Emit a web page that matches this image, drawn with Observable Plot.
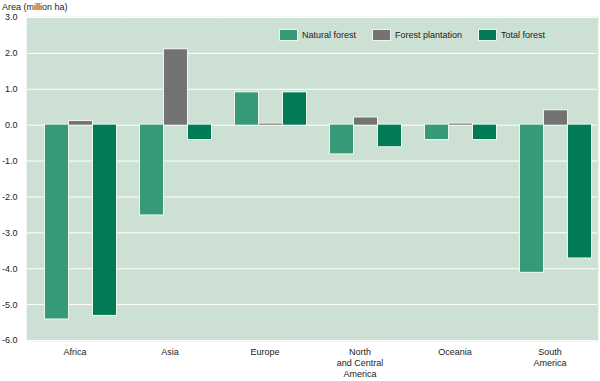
<!DOCTYPE html>
<html>
<head>
<meta charset="utf-8">
<script src="https://cdn.jsdelivr.net/npm/d3@7"></script>
<script src="https://cdn.jsdelivr.net/npm/@observablehq/plot@0.6"></script>
<style>
  html, body { margin: 0; padding: 0; background: #ffffff; }
  #wrap { position: relative; width: 600px; height: 381px; font-family: "Liberation Sans", Arial, sans-serif; }
  #title { position: absolute; left: 2px; top: 2px; font-size: 9px; color: #222; }
  #legend { position: absolute; top: 30px; left: 280px; font-size: 9px; color: #222; display: flex; }
  .item { display: flex; align-items: center; margin-right: 17px; }
  .sw { width: 17px; height: 10px; margin-right: 5px; box-shadow: 0 0 0 1px #eef5ef; }
</style>
</head>
<body>
<div id="wrap">
  <div id="chart"></div>
  <div id="title">Area (million ha)</div>
  <div id="legend"></div>
</div>
<script>
const regions = ["Africa", "Asia", "Europe", "North\nand Central\nAmerica", "Oceania", "South\nAmerica"];
const series = ["Natural forest", "Forest plantation", "Total forest"];
const colors = ["#369a78", "#737373", "#017a56"];
const naturalForest = [-5.4, -2.5, 0.9, -0.8, -0.4, -4.1];
const forestPlantation = [0.1, 2.1, 0.03, 0.2, 0.03, 0.4];
const totalForest = [-5.3, -0.4, 0.9, -0.6, -0.4, -3.7];
const yTicks = [3, 2, 1, 0, -1, -2, -3, -4, -5, -6];

const values = [naturalForest, forestPlantation, totalForest];
const data = [];
regions.forEach((r, i) => series.forEach((s, j) => data.push({region: r, series: s, value: values[j][i]})));

const chart = Plot.plot({
  width: 600,
  height: 381,
  marginLeft: 25,
  marginRight: 2,
  marginTop: 17,
  marginBottom: 41,
  style: {fontFamily: "Liberation Sans, Arial, sans-serif", fontSize: "9px", color: "#222", background: "#ffffff"},
  fx: {domain: regions, padding: 0},
  x: {domain: series, paddingInner: 0.06, paddingOuter: 0.5, axis: null},
  y: {domain: [-6, 3]},
  color: {domain: series, range: colors},
  marks: [
    Plot.frame({fill: "#cde0d4", stroke: "#cde0d4", strokeWidth: 1.5}),
    Plot.gridY(yTicks, {stroke: "#ffffff", strokeOpacity: 1, strokeWidth: 1}),
    Plot.barY(data, {fx: "region", x: "series", y: "value", fill: "#eef5ef", stroke: "#eef5ef", strokeWidth: 2, dx: 6}),
    Plot.barY(data, {fx: "region", x: "series", y: "value", fill: "series", dx: 6}),
    Plot.axisY(yTicks, {tickSize: 0, tickPadding: 10, tickFormat: d => d.toFixed(1), label: null, fontSize: 9}),
    Plot.axisFx({anchor: "bottom", tickSize: 0, tickPadding: 6, label: null, lineHeight: 1.25, fontSize: 9})
  ]
});
document.getElementById("chart").appendChild(chart);

const legend = document.getElementById("legend");
series.forEach((s, j) => {
  const it = document.createElement("div");
  it.className = "item";
  const sw = document.createElement("div");
  sw.className = "sw";
  sw.style.background = colors[j];
  const t = document.createElement("span");
  t.textContent = s;
  it.appendChild(sw); it.appendChild(t);
  legend.appendChild(it);
});
</script>
</body>
</html>
